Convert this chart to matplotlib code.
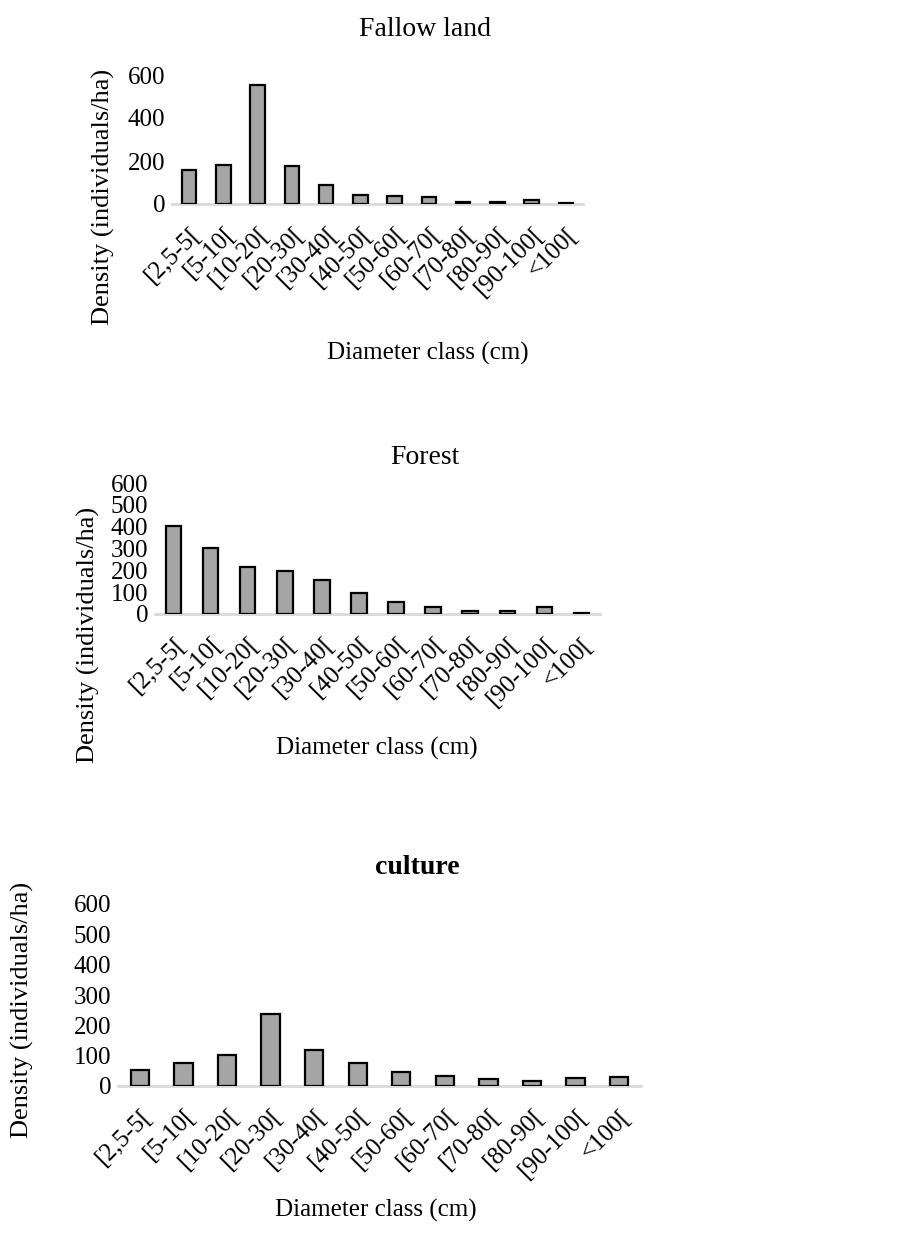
import matplotlib
matplotlib.use("Agg")
import matplotlib.pyplot as plt

plt.rcParams['font.family'] = ['Liberation Serif', 'DejaVu Serif']

classes = ['[2,5-5[', '[5-10[', '[10-20[', '[20-30[', '[30-40[', '[40-50[',
           '[50-60[', '[60-70[', '[70-80[', '[80-90[', '[90-100[', '<100[']

fallow = [159, 181, 553, 177, 90, 40, 36, 33, 11, 9, 17, 6]
forest = [402, 302, 216, 196, 155, 96, 55, 33, 12, 12, 32, 5]
culture = [52, 77, 102, 238, 118, 77, 46, 34, 24, 16, 27, 29]

fallow_ticks = [0, 200, 400, 600]
other_ticks = [0, 100, 200, 300, 400, 500, 600]

W, H = 905, 1234
fig = plt.figure(figsize=(W / 100, H / 100), dpi=100)


def px_axes(x0, x1, ytop, ybot):
    return fig.add_axes([x0 / W, 1 - ybot / H, (x1 - x0) / W, (ybot - ytop) / H])


def draw_panel(ax, values, yticks):
    x = range(len(classes))
    ax.bar(x, values, width=0.42, color='#a5a5a5', edgecolor='black', linewidth=1.6, zorder=3)
    ax.set_xlim(-0.5, len(classes) - 0.5)
    ax.set_ylim(0, 600)
    ax.set_yticks(yticks)
    ax.set_xticks(list(x))
    ax.set_xticklabels(classes, rotation=45, ha='right', rotation_mode='anchor')
    for s in ['top', 'right', 'left']:
        ax.spines[s].set_visible(False)
    ax.spines['bottom'].set_color('#d9d9d9')
    ax.spines['bottom'].set_linewidth(2)
    ax.tick_params(axis='both', length=0, labelsize=18)
    ax.tick_params(axis='x', pad=14)
    ax.tick_params(axis='y', pad=5)
    ax.set_facecolor('none')


# Fallow land
ax1 = px_axes(172, 583, 75, 204)
draw_panel(ax1, fallow, fallow_ticks)
fig.text(425 / W, 1 - 30 / H, 'Fallow land', ha='center', va='center', fontsize=20)
fig.text(428 / W, 1 - 353 / H, 'Diameter class (cm)', ha='center', va='center', fontsize=18)
fig.text(103 / W, 1 - 197 / H, 'Density (individuals/ha)', ha='center', va='center',
         rotation=90, fontsize=19)

# Forest
ax2 = px_axes(155, 600, 483, 614)
draw_panel(ax2, forest, other_ticks)
fig.text(425 / W, 1 - 457 / H, 'Forest', ha='center', va='center', fontsize=20)
fig.text(377 / W, 1 - 748 / H, 'Diameter class (cm)', ha='center', va='center', fontsize=18)
fig.text(88 / W, 1 - 635 / H, 'Density (individuals/ha)', ha='center', va='center',
         rotation=90, fontsize=19)

# culture
ax3 = px_axes(118, 641, 904, 1086)
draw_panel(ax3, culture, other_ticks)
fig.text(417 / W, 1 - 868 / H, 'culture', ha='center', va='center', fontsize=20,
         fontweight='bold')
fig.text(376 / W, 1 - 1210 / H, 'Diameter class (cm)', ha='center', va='center', fontsize=18)
fig.text(22 / W, 1 - 1010 / H, 'Density (individuals/ha)', ha='center', va='center',
         rotation=90, fontsize=19)

fig.savefig('out.png', dpi=100)
